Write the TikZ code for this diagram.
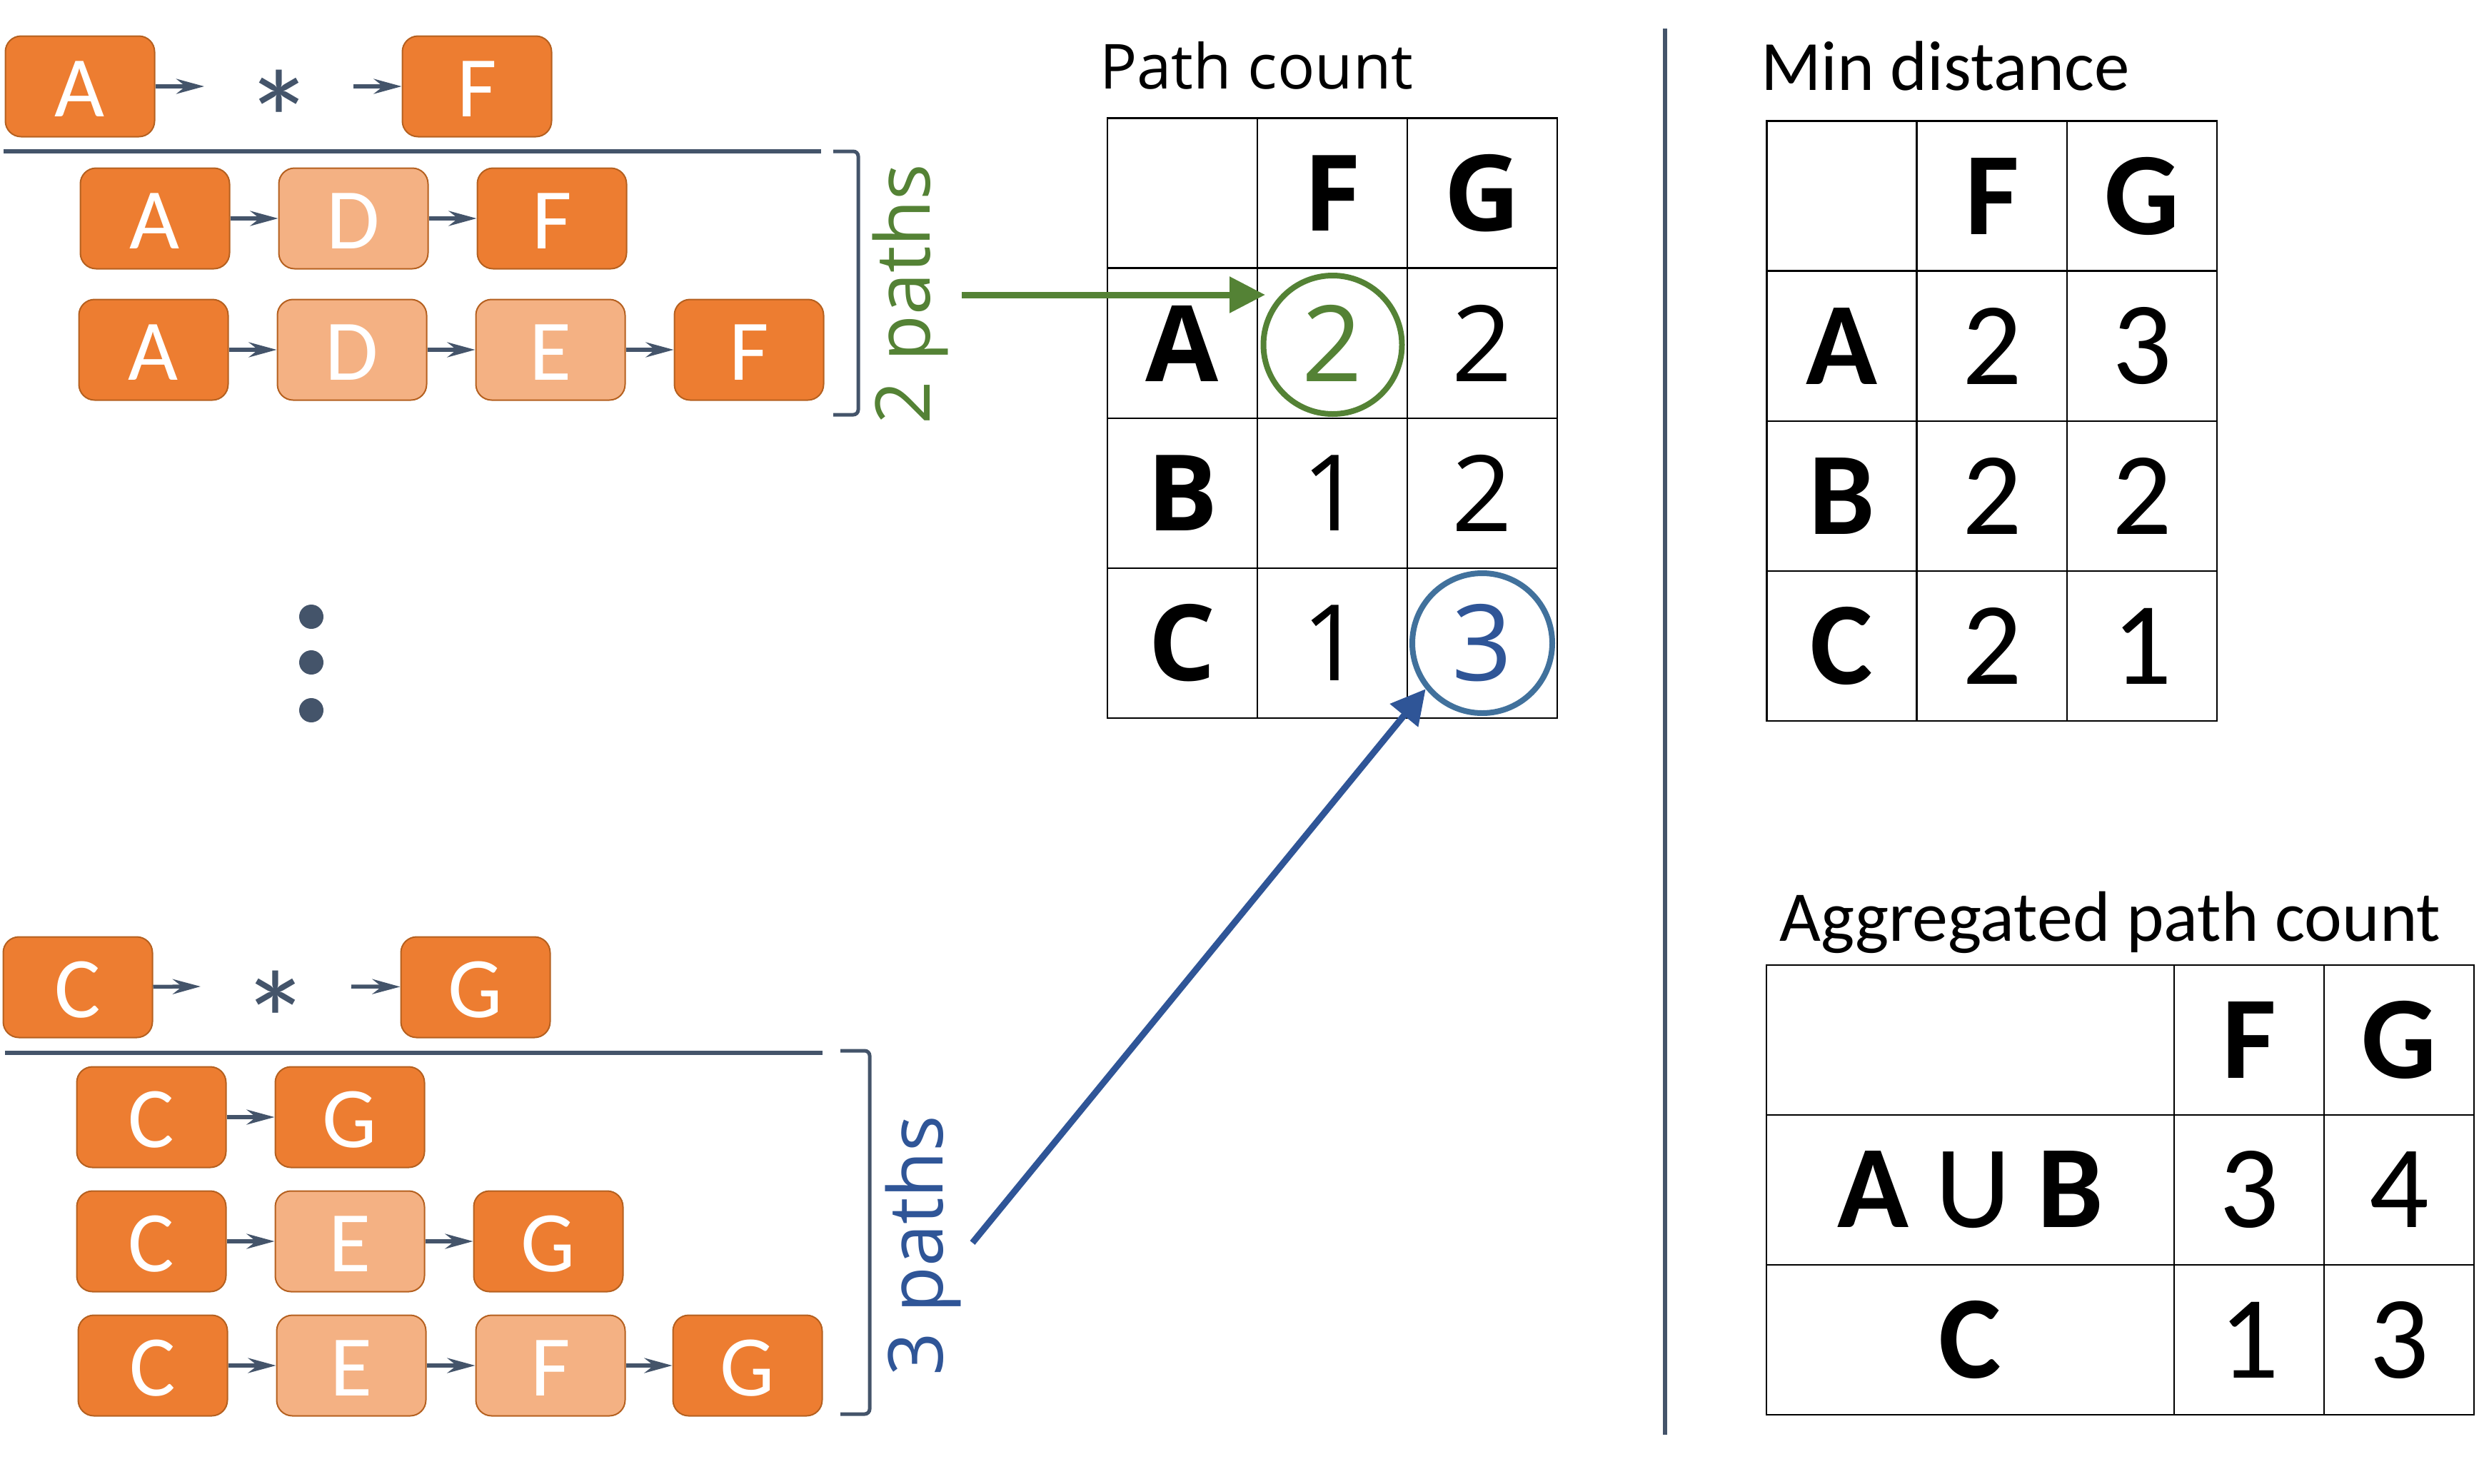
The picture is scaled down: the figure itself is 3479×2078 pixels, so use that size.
\documentclass[tikz,border=0pt]{standalone}
\usepackage{fontspec}
\setmainfont{Carlito}
\newfontfamily\osans{Open Sans}
\newfontfamily\carl{Carlito}
\usetikzlibrary{arrows.meta}
\definecolor{orA}{HTML}{ED7D31}
\definecolor{orL}{HTML}{F4B183}
\definecolor{orEdge}{HTML}{B5601F}
\definecolor{slate}{HTML}{44546A}
\definecolor{grn}{HTML}{548235}
\definecolor{blu}{HTML}{2F5597}
\definecolor{bluC}{HTML}{41719C}
\newcommand\myfs[1]{\fontsize{#1}{#1}\selectfont}
\begin{document}
\begin{tikzpicture}[x=1pt,y=-1pt,
  box/.style={rounded corners=22pt, minimum width=209pt, minimum height=141pt, draw=orEdge, line width=2pt, text=white, inner sep=0pt, text height=84pt, text depth=0pt, font=\carl\myfs{121}},
  dk/.style={box, fill=orA},
  lt/.style={box, fill=orL},
  link/.style={draw=slate, line width=5.5pt, -{Stealth[length=39pt, width=21pt, inset=13pt]}},
  sepline/.style={draw=slate, line width=6pt},
  brk/.style={draw=slate, line width=5pt, rounded corners=7pt},
  pc/.style={draw=black, line width=2.5pt, minimum width=210pt, minimum height=210pt, inner sep=0pt, font=\osans\myfs{148}},
  pch/.style={pc, font=\osans\bfseries\myfs{148}},
  md/.style={pc, font=\carl\myfs{165}},
  mdh/.style={pc, font=\carl\bfseries\myfs{165}},
  ttlO/.style={anchor=base west, inner sep=0pt, font=\osans\myfs{87}},
  ttlC/.style={anchor=base west, inner sep=0pt, font=\carl\myfs{99}},
  dotmark/.style={circle, fill=slate, minimum size=34pt, inner sep=0pt},
  ast/.style={inner sep=0pt, text=slate, font=\carl\myfs{195}},
  plabel/.style={rotate=90, anchor=base, inner sep=0pt, font=\osans\myfs{106}},
]
\useasboundingbox (0,0) rectangle (3479,2078);

% ---------- top-left: A -> * -> F ----------
\node[dk] (a0) at (112,121) {A};
\node[dk] (f0) at (668,121) {F};
\node[ast] (st0) at (391,167) {*};
\coordinate (c0a) at (286,121);
\coordinate (c0b) at (495,121);
\draw[link] (a0) -- (c0a);
\draw[link] (c0b) -- (f0);
\coordinate (s1a) at (5,212);
\coordinate (s1b) at (1150,212);
\draw[sepline] (s1a) -- (s1b);

\node[dk] (a1) at (217,306) {A};
\node[lt] (d1) at (495,306) {D};
\node[dk] (f1) at (773,306) {F};
\draw[link] (a1) -- (d1);
\draw[link] (d1) -- (f1);

\node[dk] (a2) at (215,490) {A};
\node[lt] (d2) at (493,490) {D};
\node[lt] (e2) at (771,490) {E};
\node[dk] (f2) at (1049,490) {F};
\draw[link] (a2) -- (d2);
\draw[link] (d2) -- (e2);
\draw[link] (e2) -- (f2);

\coordinate (b1a) at (1167,212);
\coordinate (b1b) at (1202,212);
\coordinate (b1c) at (1202,581);
\coordinate (b1d) at (1167,581);
\draw[brk] (b1a) -- (b1b) -- (b1c) -- (b1d);
\node[plabel, text=grn] (two) at (1302,412) {2 paths};

% ---------- dots ----------
\node[dotmark] (dt1) at (436,864) {};
\node[dotmark] (dt2) at (436,928) {};
\node[dotmark] (dt3) at (436,995) {};

% ---------- bottom-left: C -> * -> G ----------
\node[dk] (c0) at (109,1383) {C};
\node[dk] (g0) at (666,1383) {G};
\node[ast] (st1) at (386,1429) {*};
\coordinate (c1a) at (281,1382);
\coordinate (c1b) at (492,1382);
\draw[link] (c0) -- (c1a);
\draw[link] (c1b) -- (g0);
\coordinate (s2a) at (7,1475);
\coordinate (s2b) at (1152,1475);
\draw[sepline] (s2a) -- (s2b);

\node[dk] (c1) at (212,1565) {C};
\node[dk] (g1) at (490,1565) {G};
\draw[link] (c1) -- (g1);

\node[dk] (c2) at (212,1739) {C};
\node[lt] (e3) at (490,1739) {E};
\node[dk] (g2) at (768,1739) {G};
\draw[link] (c2) -- (e3);
\draw[link] (e3) -- (g2);

\node[dk] (c3) at (214,1913) {C};
\node[lt] (e4) at (492,1913) {E};
\node[lt] (f3) at (771,1913) {F};
\node[dk] (g3) at (1047,1913) {G};
\draw[link] (c3) -- (e4);
\draw[link] (e4) -- (f3);
\draw[link] (f3) -- (g3);

\coordinate (b2a) at (1177,1472);
\coordinate (b2b) at (1218,1472);
\coordinate (b2c) at (1218,1981);
\coordinate (b2d) at (1177,1981);
\draw[brk] (b2a) -- (b2b) -- (b2c) -- (b2d);
\node[plabel, text=blu] (three) at (1320,1745) {3 paths};

% ---------- Path count table ----------
\node[ttlO] (tpc) at (1540,124) {Path count};
\node[pc] (p00) at (1656,270.5) {};
\node[pch] (pF) at (1866,270.5) {F};
\node[pch] (pG) at (2076,270.5) {G};
\node[pch] (pA) at (1656,481) {A};
\node[pc, text=grn] (pAF) at (1866,481) {2};
\node[pc] (pAG) at (2076,481) {2};
\node[pch] (pB) at (1656,691) {B};
\node[pc] (pBF) at (1866,691) {1};
\node[pc] (pBG) at (2076,691) {2};
\node[pch] (pC) at (1656,901) {C};
\node[pc] (pCF) at (1866,901) {1};
\node[pc, text=blu] (pCG) at (2076,901) {3};

\node[circle, draw=grn, line width=8pt, minimum size=194pt, inner sep=0pt] (gc) at (1866.5,483) {};
\node[circle, draw=bluC, line width=8pt, minimum size=196pt, inner sep=0pt] (bc) at (2076,901) {};

\coordinate (gs) at (1347,413);
\coordinate (gt) at (1772,413);
\draw[draw=grn, line width=9pt, -{Triangle[length=50pt, width=49pt, fill=grn]}] (gs) -- (gt);
\coordinate (bs) at (1362,1741);
\draw[draw=blu, line width=9pt, -{Triangle[length=48pt, width=49pt, fill=blu]}] (bs) -- (bc.219);

% ---------- separator ----------
\coordinate (v1) at (2332,40);
\coordinate (v2) at (2332,2010);
\draw[sepline] (v1) -- (v2);

% ---------- Min distance table ----------
\node[ttlC] (tmd) at (2466,126) {Min distance};
\node[md] (m00) at (2579.5,274.5) {};
\node[mdh] (mF) at (2790,274.5) {F};
\node[mdh] (mG) at (3000,274.5) {G};
\node[mdh] (mA) at (2579.5,485) {A};
\node[md] (mAF) at (2790,485) {2};
\node[md] (mAG) at (3000,485) {3};
\node[mdh] (mB) at (2579.5,695) {B};
\node[md] (mBF) at (2790,695) {2};
\node[md] (mBG) at (3000,695) {2};
\node[mdh] (mC) at (2579.5,905) {C};
\node[md] (mCF) at (2790,905) {2};
\node[md] (mCG) at (3000,905) {1};

% ---------- Aggregated path count table ----------
\node[ttlC, font=\carl\myfs{100}] (tag) at (2492,1318) {Aggregated path count};
\node[md, minimum width=571pt] (g00) at (2759.5,1457) {};
\node[mdh] (gF) at (3150,1457) {F};
\node[mdh] (gG) at (3360,1457) {G};
\node[md, minimum width=571pt] (gAB) at (2759.5,1667) {\bfseries A {\mdseries U} B};
\node[md] (gABF) at (3150,1667) {3};
\node[md] (gABG) at (3360,1667) {4};
\node[mdh, minimum width=571pt] (gCc) at (2759.5,1877) {C};
\node[md] (gCF) at (3150,1877) {1};
\node[md] (gCG) at (3360,1877) {3};
\end{tikzpicture}
\end{document}
